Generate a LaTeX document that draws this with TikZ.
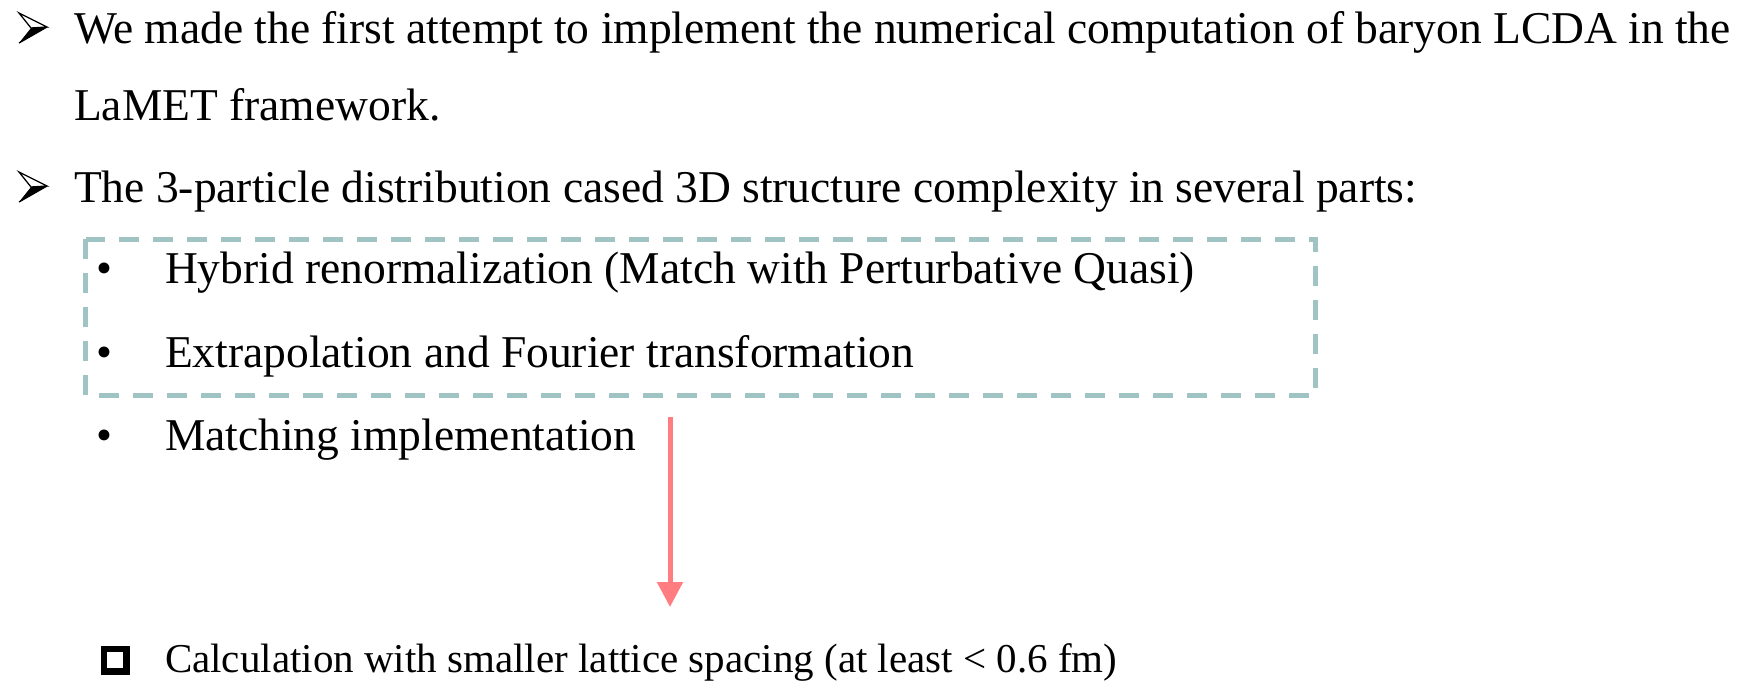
\documentclass[tikz,border=0pt]{standalone}
\usepackage{fontspec}
\setmainfont{Liberation Serif}
\usetikzlibrary{arrows.meta}
\definecolor{boxteal}{RGB}{160,196,196}
\definecolor{flowred}{RGB}{255,124,128}
\tikzset{
  arrowbullet/.pic={
    % lower, solid half of the arrowhead
    \fill[black] (1,0) -- (13,-15) -- (29,-16) -- cycle;
    % upper, outlined half
    \filldraw[fill=white,draw=black,line width=1.3pt,line join=miter]
      (1,-30) -- (29,-16) -- (13,-15) -- cycle;
    \draw[black,line width=1.3pt] (1,0) -- (29,-16);
  }
}
\begin{document}
\begin{tikzpicture}[x=1pt,y=-1pt,
  every node/.style={inner sep=0pt,outer sep=0pt},
  body/.style={anchor=base west,font=\fontsize{45.5}{54}\selectfont},
  small/.style={anchor=base west,font=\fontsize{41}{50}\selectfont},
  dot/.style={anchor=base,font=\fontsize{45.5}{54}\selectfont},
  groupbox/.style={draw=boxteal,line width=5pt,dash pattern=on 20pt off 14pt},
  flow/.style={draw=flowred,line width=5pt,-{Triangle[width=25pt,length=25pt]}},
  checkbox/.style={draw=black,line width=6.5pt}]
\useasboundingbox (0,0) rectangle (1751,681);

% top-level points
\pic at (18,43) {arrowbullet};
\node[body] (p1a) at (74,43) {We made the first attempt to implement the numerical computation of baryon LCDA in the};
\node[body] (p1b) at (74,120) {LaMET framework.};
\pic at (18,202) {arrowbullet};
\node[body] (p2) at (74,202) {The 3-particle distribution cased 3D structure complexity in several parts:};

% sub-items
\node[dot] (d1) at (104,283) {•};
\node[body] (s1) at (165,283) {Hybrid renormalization (Match with Perturbative Quasi)};
\node[dot] (d2) at (104,367) {•};
\node[body] (s2) at (165,367) {Extrapolation and Fourier transformation};
\node[dot] (d3) at (104,450) {•};
\node[body] (s3) at (165,450) {Matching implementation};

% dashed frame around the first two sub-items
\coordinate (boxnw) at (85.5,239);
\coordinate (boxse) at (1315.5,395.5);
\draw[groupbox] (boxnw) rectangle (boxse);

% arrow down to the outlook item
\coordinate (arrowtop) at (670,417);
\coordinate (arrowtip) at (670,607);
\draw[flow] (arrowtop) -- (arrowtip);

% outlook item with hollow square bullet
\draw[checkbox] (103.75,648.75) rectangle (126.25,671.25);
\node[small] (todo) at (165,672) {Calculation with smaller lattice spacing (at least < 0.6 fm)};
\end{tikzpicture}
\end{document}
